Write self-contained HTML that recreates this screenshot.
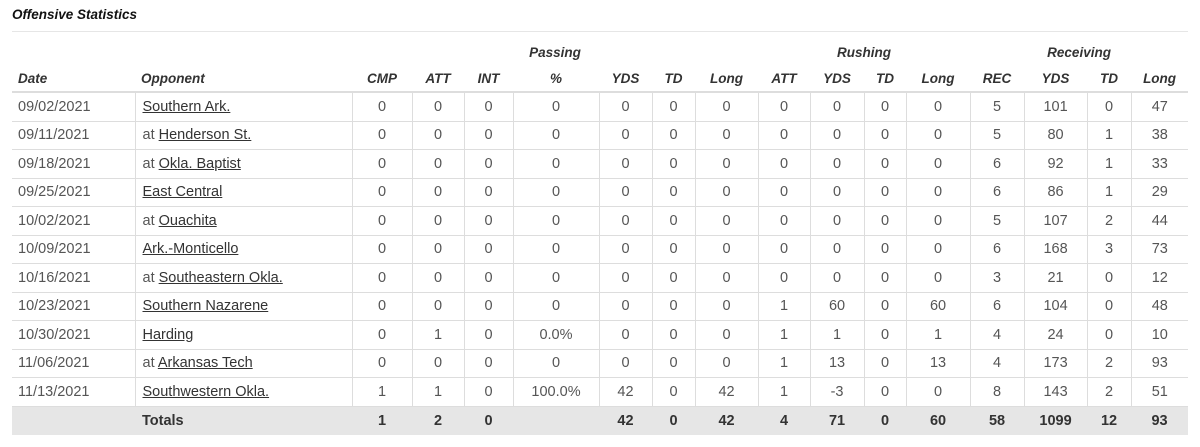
<!DOCTYPE html>
<html><head><meta charset="utf-8"><style>
body{margin:0;background:#fff;width:1200px;height:447px;overflow:hidden;font-family:"Liberation Sans",sans-serif;color:#333}
.title{position:absolute;left:12px;top:7px;font-size:13.5px;font-weight:bold;font-style:italic;color:#111}
.rule{position:absolute;left:12px;top:31px;width:1176px;height:1px;background:#e6e6e6}
table{position:absolute;left:12px;top:39px;border-collapse:collapse;table-layout:fixed;width:1176px;font-size:13.5px}
th{font-weight:bold;font-style:italic;color:#333;text-align:center;padding:0;height:26px}
th.l{text-align:left;padding-left:6px}
tr.h2 th{height:26px;border-bottom:2px solid #ddd}
td{height:27.5px;border:1px solid #ddd;border-top:none;text-align:center;padding:0;color:#555;font-size:14.5px}
td:first-child{border-left:none;text-align:left;padding-left:6px}
td:last-child{border-right:none}
td.o{text-align:left;padding-left:7px}
td.o u{color:#333}
tr.tot td{background:#e6e6e6;font-weight:bold;color:#333;border:none;height:28px}
</style></head><body>
<div class="title">Offensive Statistics</div>
<div class="rule"></div>
<table>
<colgroup><col style="width:123px"><col style="width:217px"><col style="width:60px"><col style="width:52px"><col style="width:49px"><col style="width:86px"><col style="width:53px"><col style="width:43px"><col style="width:63px"><col style="width:52px"><col style="width:54px"><col style="width:42px"><col style="width:64px"><col style="width:54px"><col style="width:63px"><col style="width:44px"><col style="width:57px"></colgroup>
<tr><th></th><th></th><th colspan="7">Passing</th><th colspan="4">Rushing</th><th colspan="4">Receiving</th></tr>
<tr class="h2"><th class="l">Date</th><th class="l">Opponent</th><th>CMP</th><th>ATT</th><th>INT</th><th>%</th><th>YDS</th><th>TD</th><th>Long</th><th>ATT</th><th>YDS</th><th>TD</th><th>Long</th><th>REC</th><th>YDS</th><th>TD</th><th>Long</th></tr>
<tr><td>09/02/2021</td><td class="o"><u>Southern Ark.</u></td><td>0</td><td>0</td><td>0</td><td>0</td><td>0</td><td>0</td><td>0</td><td>0</td><td>0</td><td>0</td><td>0</td><td>5</td><td>101</td><td>0</td><td>47</td></tr>
<tr><td>09/11/2021</td><td class="o">at <u>Henderson St.</u></td><td>0</td><td>0</td><td>0</td><td>0</td><td>0</td><td>0</td><td>0</td><td>0</td><td>0</td><td>0</td><td>0</td><td>5</td><td>80</td><td>1</td><td>38</td></tr>
<tr><td>09/18/2021</td><td class="o">at <u>Okla. Baptist</u></td><td>0</td><td>0</td><td>0</td><td>0</td><td>0</td><td>0</td><td>0</td><td>0</td><td>0</td><td>0</td><td>0</td><td>6</td><td>92</td><td>1</td><td>33</td></tr>
<tr><td>09/25/2021</td><td class="o"><u>East Central</u></td><td>0</td><td>0</td><td>0</td><td>0</td><td>0</td><td>0</td><td>0</td><td>0</td><td>0</td><td>0</td><td>0</td><td>6</td><td>86</td><td>1</td><td>29</td></tr>
<tr><td>10/02/2021</td><td class="o">at <u>Ouachita</u></td><td>0</td><td>0</td><td>0</td><td>0</td><td>0</td><td>0</td><td>0</td><td>0</td><td>0</td><td>0</td><td>0</td><td>5</td><td>107</td><td>2</td><td>44</td></tr>
<tr><td>10/09/2021</td><td class="o"><u>Ark.-Monticello</u></td><td>0</td><td>0</td><td>0</td><td>0</td><td>0</td><td>0</td><td>0</td><td>0</td><td>0</td><td>0</td><td>0</td><td>6</td><td>168</td><td>3</td><td>73</td></tr>
<tr><td>10/16/2021</td><td class="o">at <u>Southeastern Okla.</u></td><td>0</td><td>0</td><td>0</td><td>0</td><td>0</td><td>0</td><td>0</td><td>0</td><td>0</td><td>0</td><td>0</td><td>3</td><td>21</td><td>0</td><td>12</td></tr>
<tr><td>10/23/2021</td><td class="o"><u>Southern Nazarene</u></td><td>0</td><td>0</td><td>0</td><td>0</td><td>0</td><td>0</td><td>0</td><td>1</td><td>60</td><td>0</td><td>60</td><td>6</td><td>104</td><td>0</td><td>48</td></tr>
<tr><td>10/30/2021</td><td class="o"><u>Harding</u></td><td>0</td><td>1</td><td>0</td><td>0.0%</td><td>0</td><td>0</td><td>0</td><td>1</td><td>1</td><td>0</td><td>1</td><td>4</td><td>24</td><td>0</td><td>10</td></tr>
<tr><td>11/06/2021</td><td class="o">at <u>Arkansas Tech</u></td><td>0</td><td>0</td><td>0</td><td>0</td><td>0</td><td>0</td><td>0</td><td>1</td><td>13</td><td>0</td><td>13</td><td>4</td><td>173</td><td>2</td><td>93</td></tr>
<tr><td>11/13/2021</td><td class="o"><u>Southwestern Okla.</u></td><td>1</td><td>1</td><td>0</td><td>100.0%</td><td>42</td><td>0</td><td>42</td><td>1</td><td>-3</td><td>0</td><td>0</td><td>8</td><td>143</td><td>2</td><td>51</td></tr>
<tr class="tot"><td></td><td class="o">Totals</td><td>1</td><td>2</td><td>0</td><td></td><td>42</td><td>0</td><td>42</td><td>4</td><td>71</td><td>0</td><td>60</td><td>58</td><td>1099</td><td>12</td><td>93</td></tr>
</table>
</body></html>
